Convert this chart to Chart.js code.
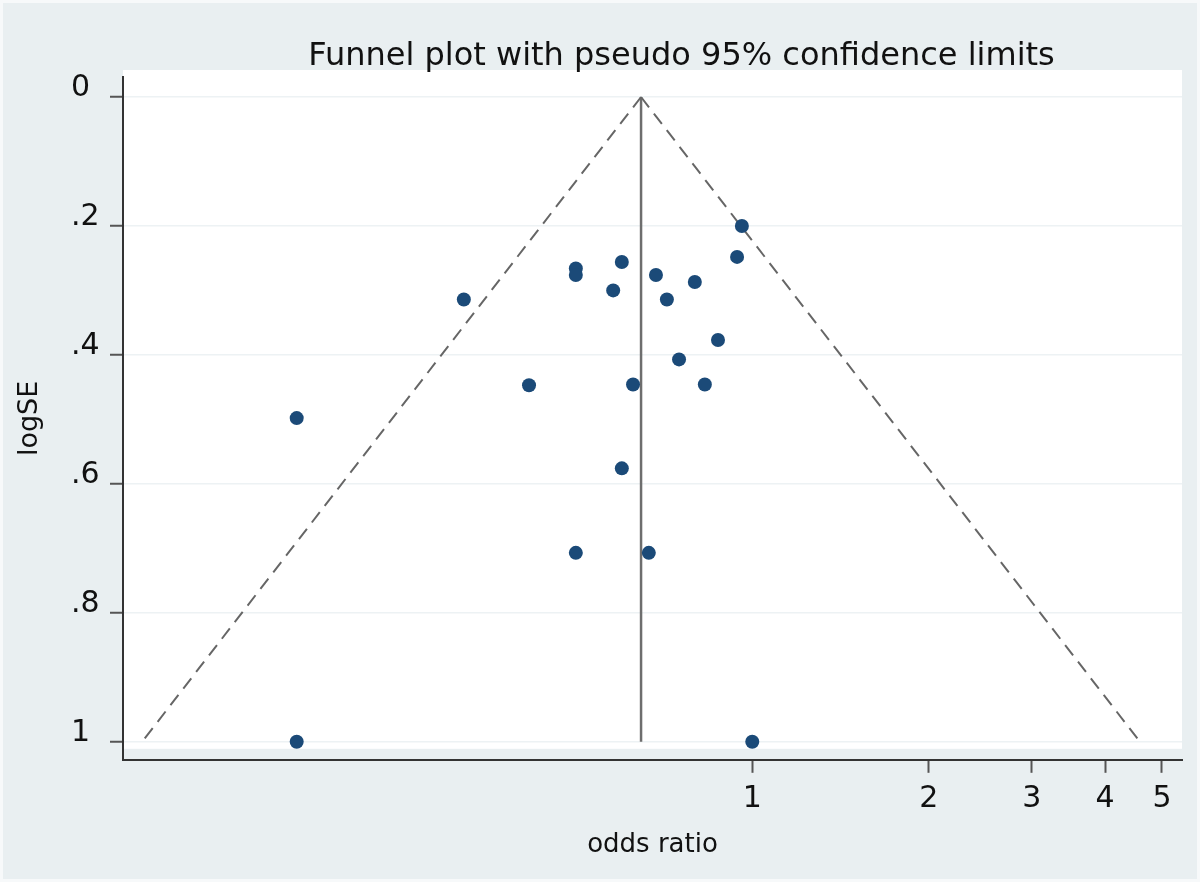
<!DOCTYPE html>
<html lang="en">
<head>
  <meta charset="UTF-8">
  <title>Funnel plot with pseudo 95% confidence limits</title>
  <script src="https://cdn.jsdelivr.net/npm/chart.js@4.4.4/dist/chart.umd.min.js"></script>
  <style>
    html, body { margin: 0; padding: 0; background: #e9eff1; }
    canvas { display: block; }
  </style>
</head>
<body>
  <canvas id="funnelChart" width="1200" height="882"></canvas>
  <script>
    // study estimates (odds ratio, standard error of log OR)
    const studyOR = [0.960, 0.942, 0.500, 0.500, 0.599, 0.685, 0.798, 0.579, 0.715, 0.322,
                     0.874, 0.750, 0.416, 0.626, 0.830, 0.167, 0.599, 0.500, 0.666, 0.167, 1.000];
    const studySE = [0.200, 0.248, 0.266, 0.276, 0.256, 0.276, 0.287, 0.300, 0.314, 0.314,
                     0.377, 0.407, 0.447, 0.446, 0.446, 0.498, 0.576, 0.707, 0.707, 1.000, 1.000];

    // pooled estimate and pseudo 95% limits (apex at SE 0, ends at SE 1)
    const limitSE = [0, 1];
    const pooledLine = [0.646, 0.646];
    const lowerLimit = [0.646, 0.091];
    const upperLimit = [0.646, 4.586];

    const xTicks = [1, 2, 3, 4, 5];
    const yTicks = [0, 0.2, 0.4, 0.6, 0.8, 1];

    const FONT = "'DejaVu Sans', sans-serif";

    const toPoints = (xs, ys) => xs.map((x, i) => ({ x: x, y: ys[i] }));

    // background, white plot region, main title and y title (Stata look)
    const stataFrame = {
      id: 'stataFrame',
      beforeDraw(chart) {
        const { ctx, chartArea: a, width, height } = chart;
        ctx.save();
        ctx.fillStyle = '#e9eff1';
        ctx.fillRect(0, 0, width, height);
        ctx.strokeStyle = '#f7f9fa';
        ctx.lineWidth = 3;
        ctx.strokeRect(1.5, 1.5, width - 3, height - 3);
        ctx.fillStyle = '#ffffff';
        ctx.fillRect(a.left, a.top - 7, a.right - a.left, a.bottom - a.top - 4);
        ctx.restore();
      },
      afterDraw(chart) {
        const { ctx, chartArea: a } = chart;
        ctx.save();
        ctx.fillStyle = '#111';
        ctx.font = '32px ' + FONT;
        ctx.textAlign = 'center';
        ctx.textBaseline = 'alphabetic';
        ctx.fillText('Funnel plot with pseudo 95% confidence limits', (a.left + a.right) / 2 + 29, 65);

        ctx.font = '27px ' + FONT;
        ctx.translate(30, (a.top + a.bottom) / 2);
        ctx.rotate(-Math.PI / 2);
        ctx.textBaseline = 'middle';
        ctx.fillText('logSE', 0, 0);
        ctx.restore();
      }
    };

    const ctx = document.getElementById('funnelChart').getContext('2d');
    new Chart(ctx, {
      type: 'scatter',
      data: {
        datasets: [
          {
            label: 'Studies',
            data: toPoints(studyOR, studySE),
            backgroundColor: '#1b4a78',
            borderWidth: 0,
            pointRadius: 7
          },
          {
            label: 'Lower limit',
            data: toPoints(lowerLimit, limitSE),
            showLine: true,
            pointRadius: 0,
            borderColor: '#666',
            borderWidth: 2,
            borderDash: [13, 8]
          },
          {
            label: 'Upper limit',
            data: toPoints(upperLimit, limitSE),
            showLine: true,
            pointRadius: 0,
            borderColor: '#666',
            borderWidth: 2,
            borderDash: [13, 8]
          },
          {
            label: 'Pooled',
            data: toPoints(pooledLine, limitSE),
            showLine: true,
            pointRadius: 0,
            borderColor: '#6e6e6e',
            borderWidth: 2.5
          }
        ]
      },
      options: {
        responsive: false,
        animation: false,
        devicePixelRatio: 1,
        layout: { padding: { left: 71, right: 18, top: 77, bottom: 21 } },
        plugins: {
          legend: { display: false },
          tooltip: { enabled: false }
        },
        scales: {
          x: {
            type: 'logarithmic',
            min: 0.0844,
            max: 5.41,
            afterBuildTicks: scale => { scale.ticks = xTicks.map(v => ({ value: v })); },
            ticks: {
              callback: v => String(v),
              color: '#111',
              font: { family: FONT, size: 30 },
              padding: 8,
              maxRotation: 0,
              autoSkip: false
            },
            grid: {
              drawOnChartArea: false,
              tickColor: '#555',
              tickLength: 13,
              tickWidth: 2
            },
            border: { color: '#333', width: 2 },
            title: {
              display: true,
              text: 'odds ratio',
              color: '#111',
              font: { family: FONT, size: 26 },
              padding: { top: 5, bottom: 0 }
            }
          },
          y: {
            reverse: true,
            min: -0.031,
            max: 1.028,
            afterBuildTicks: scale => { scale.ticks = yTicks.map(v => ({ value: v })); },
            afterFit: scale => { scale.width = 52; },
            ticks: {
              callback: v => v === 0 ? '0' : v === 1 ? '1' : v.toFixed(1).replace(/^0/, ''),
              color: '#111',
              font: { family: FONT, size: 30 },
              padding: 10,
              crossAlign: 'far',
              labelOffset: -9
            },
            grid: {
              color: '#edf2f4',
              lineWidth: 1.5,
              tickColor: '#555',
              tickLength: 13,
              tickWidth: 2
            },
            border: { color: '#333', width: 2 }
          }
        }
      },
      plugins: [stataFrame]
    });
  </script>
</body>
</html>
